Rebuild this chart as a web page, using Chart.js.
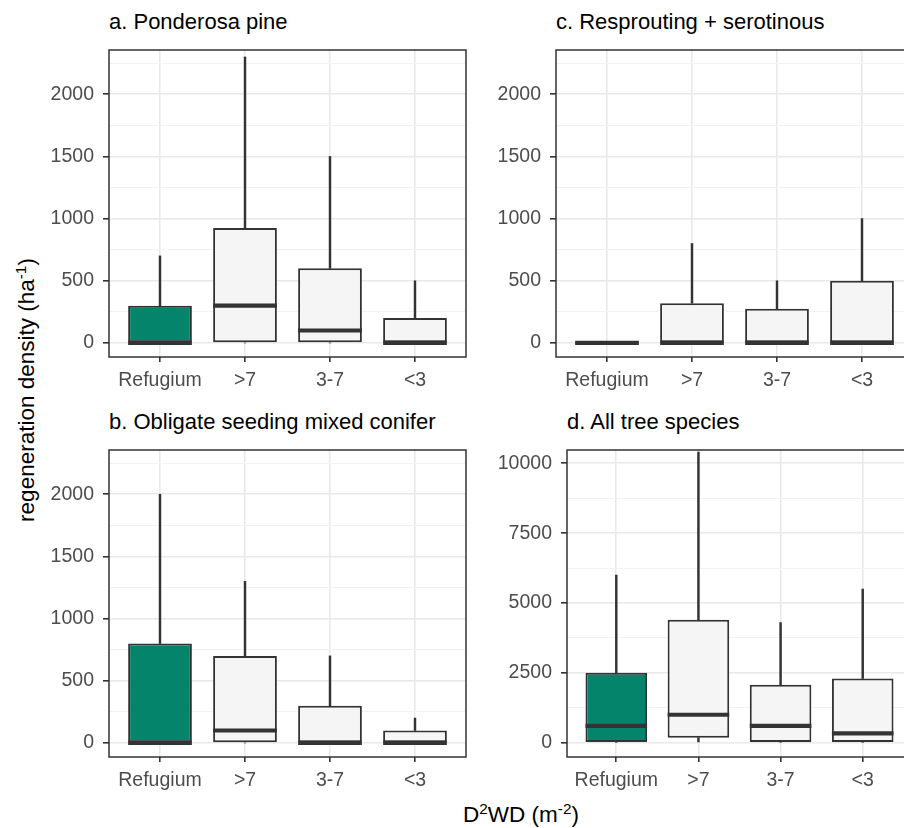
<!DOCTYPE html>
<html>
<head>
<meta charset="utf-8">
<script src="https://cdn.jsdelivr.net/npm/chart.js@4.4.0/dist/chart.umd.min.js"></script>
<style>
html,body{margin:0;padding:0;width:904px;height:828px;overflow:hidden;background:#fff;font-family:"Liberation Sans",Arial,Helvetica,sans-serif;}
canvas{position:absolute;}
.ttl{position:absolute;font-size:22px;line-height:22px;color:#000;white-space:nowrap;}
.axt{position:absolute;font-size:22.5px;line-height:22px;color:#000;white-space:nowrap;}
.sp{font-size:0.68em;position:relative;top:-0.5em;}
</style>
</head>
<body>
<div class="ttl" style="left:109px;top:10.5px;">a. Ponderosa pine</div>
<div class="ttl" style="left:556px;top:10.5px;">c. Resprouting + serotinous</div>
<div class="ttl" style="left:109px;top:410.5px;">b. Obligate seeding mixed conifer</div>
<div class="ttl" style="left:567px;top:410.5px;">d. All tree species</div>
<div class="axt" style="left:28px;top:390px;transform:translate(-50%,-50%) rotate(-90deg);">regeneration density (ha<span class="sp">-1</span>)</div>
<div class="axt" style="left:521px;top:804px;transform:translateX(-50%);">D<span class="sp">2</span>WD (m<span class="sp">-2</span>)</div>
<canvas id="pa"></canvas>
<canvas id="pc"></canvas>
<canvas id="pb"></canvas>
<canvas id="pd"></canvas>
<script>
// ---- data ----
const categories = ['Refugium', '>7', '3-7', '<3'];
const xPositions = [1, 2, 3, 4];
const boxColors = ['#05846c', '#f5f5f5', '#f5f5f5', '#f5f5f5'];

// a. Ponderosa pine
const pineMin = [0, 0, 0, 0];
const pineQ1  = [0, 0, 0, 0];
const pineMed = [0, 300, 100, 0];
const pineQ3  = [300, 925, 600, 200];
const pineMax = [700, 2300, 1500, 500];

// c. Resprouting + serotinous
const respMin = [0, 0, 0, 0];
const respQ1  = [0, 0, 0, 0];
const respMed = [0, 0, 0, 0];
const respQ3  = [0, 320, 275, 500];
const respMax = [0, 800, 500, 1000];

// b. Obligate seeding mixed conifer
const oblMin = [0, 0, 0, 0];
const oblQ1  = [0, 0, 0, 0];
const oblMed = [0, 100, 0, 0];
const oblQ3  = [800, 700, 300, 100];
const oblMax = [2000, 1300, 700, 200];

// d. All tree species
const allMin = [0, 0, 0, 0];
const allQ1  = [0, 180, 0, 0];
const allMed = [600, 1000, 600, 330];
const allQ3  = [2500, 4400, 2070, 2300];
const allMax = [6000, 10400, 4300, 5500];

// tick values
const abcTicks = [0, 250, 500, 750, 1000, 1250, 1500, 1750, 2000, 2250];
const abcMajor = [0, 500, 1000, 1500, 2000];
const dTicks = [0, 1250, 2500, 3750, 5000, 6250, 7500, 8750, 10000];
const dMajor = [0, 2500, 5000, 7500, 10000];
const abcRange = [-113, 2356];
const dRange = [-512, 10476];

// ---- drawing ----
const FONT = '"Liberation Sans", Arial, Helvetica, sans-serif';
const INK = '#333333';
const TICK_SIZE = 19.5;

const panelBorder = {
  id: 'panelBorder',
  afterDraw(chart) {
    const {ctx, chartArea: a} = chart;
    ctx.save();
    ctx.strokeStyle = INK;
    ctx.lineWidth = 1.5;
    ctx.strokeRect(a.left, a.top, a.right - a.left, a.bottom - a.top);
    ctx.restore();
  }
};

function halfBox(chart) {
  const s = chart.scales.x;
  if (!s) return 30;
  return Math.abs(s.getPixelForValue(2) - s.getPixelForValue(1)) * 0.75 / 2;
}

function makePanel(id, place, mins, q1, med, q3, maxs, range, ticks, majors) {
  const el = document.getElementById(id);
  el.width = place.w; el.height = place.h;
  el.style.left = place.left + 'px'; el.style.top = place.top + 'px';
  el.style.width = place.w + 'px'; el.style.height = place.h + 'px';
  const isMajor = v => majors.indexOf(v) >= 0;
  const pts = arr => xPositions.map((x, i) => ({x: x, y: arr[i]}));
  const spans = (lo, hi) => xPositions.map((x, i) => ({x: x, y: [lo[i], hi[i]]}));
  new Chart(el, {
    type: 'bar',
    data: {
      datasets: [
        {
          type: 'line', label: 'median', data: pts(med), showLine: false,
          pointStyle: 'line', pointRadius: ctx => halfBox(ctx.chart), pointHoverRadius: ctx => halfBox(ctx.chart),
          pointBorderWidth: 4.2, pointHoverBorderWidth: 4.2, pointBorderColor: INK, pointBackgroundColor: INK, order: 0
        },
        {
          type: 'bar', label: 'box', data: spans(q1, q3), backgroundColor: boxColors,
          borderColor: INK, borderWidth: 2, borderSkipped: false,
          barPercentage: 0.75, categoryPercentage: 1, grouped: false, order: 1
        },
        {
          type: 'bar', label: 'upper whisker', data: spans(q3, maxs), backgroundColor: INK,
          barThickness: 1.8, grouped: false, order: 2
        },
        {
          type: 'bar', label: 'lower whisker', data: spans(mins, q1), backgroundColor: INK,
          barThickness: 1.8, grouped: false, order: 3
        }
      ]
    },
    options: {
      responsive: false, animation: false, events: [],
      layout: {padding: {top: 2, right: 2, bottom: 0, left: 0}},
      plugins: {legend: {display: false}, tooltip: {enabled: false}, title: {display: false}},
      scales: {
        x: {
          type: 'linear', min: 0.4, max: 4.6, offset: false,
          afterBuildTicks: s => { s.ticks = xPositions.map(v => ({value: v})); },
          afterFit: s => { s.height = place.xh; s.paddingLeft = 0; s.paddingRight = 0; },
          ticks: {
            autoSkip: false, maxRotation: 0, minRotation: 0, padding: 7,
            color: '#4d4d4d', font: {family: FONT, size: TICK_SIZE},
            callback: v => categories[Math.round(v) - 1]
          },
          grid: {color: '#e9e9e9', lineWidth: 1.6, tickColor: INK, tickWidth: 1.6, tickLength: 5, drawTicks: true, offset: false},
          border: {display: false}
        },
        y: {
          type: 'linear', min: range[0], max: range[1],
          afterBuildTicks: s => { s.ticks = ticks.map(v => ({value: v})); },
          afterFit: s => { s.width = place.yw; s.paddingTop = 0; s.paddingBottom = 0; },
          ticks: {
            autoSkip: false, padding: 9, color: '#4d4d4d', font: {family: FONT, size: TICK_SIZE},
            callback: v => isMajor(v) ? String(v) : ''
          },
          grid: {
            color: c => (c.tick && isMajor(c.tick.value)) ? '#e9e9e9' : '#f2f2f2',
            lineWidth: c => (c.tick && isMajor(c.tick.value)) ? 1.6 : 1,
            tickColor: c => (c.tick && isMajor(c.tick.value)) ? INK : 'rgba(0,0,0,0)',
            tickWidth: 1.6, tickLength: 6, drawTicks: true
          },
          border: {display: false}
        }
      }
    },
    plugins: [panelBorder]
  });
}

makePanel('pa', {left: 40, top: 48, w: 428, h: 349, yw: 69, xh: 40}, pineMin, pineQ1, pineMed, pineQ3, pineMax, abcRange, abcTicks, abcMajor);
makePanel('pc', {left: 487, top: 48, w: 428, h: 349, yw: 69, xh: 40}, respMin, respQ1, respMed, respQ3, respMax, abcRange, abcTicks, abcMajor);
makePanel('pb', {left: 40, top: 448, w: 428, h: 349, yw: 69, xh: 40}, oblMin, oblQ1, oblMed, oblQ3, oblMax, abcRange, abcTicks, abcMajor);
makePanel('pd', {left: 487, top: 448, w: 427, h: 349, yw: 80, xh: 40}, allMin, allQ1, allMed, allQ3, allMax, dRange, dTicks, dMajor);
</script>
</body>
</html>
